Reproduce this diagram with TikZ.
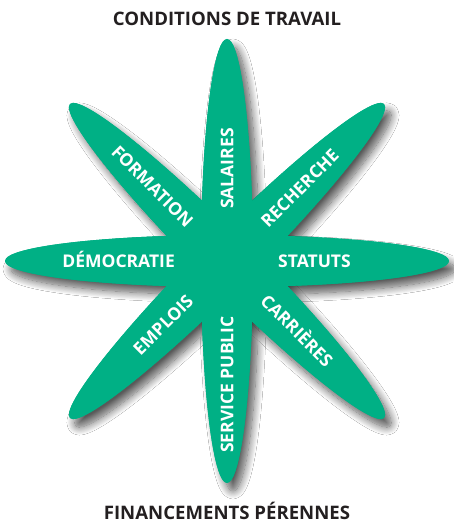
\documentclass[tikz,border=0pt]{standalone}
\usepackage{fontspec}
\setmainfont{Open Sans}
\usetikzlibrary{calc,shadows.blur}
\definecolor{petalgreen}{RGB}{0,176,133}
\definecolor{titleink}{RGB}{35,31,32}
\tikzset{
  petal/.style={fill=petalgreen},
  petalshadow/.style={fill=petalgreen, blur shadow={shadow xshift=6pt, shadow yshift=-8pt, shadow blur radius=8pt, shadow blur steps=14, shadow opacity=65}},
  lbl/.style={text=white, font=\bfseries\fontsize{17.5}{20}\selectfont, inner sep=0pt, text height=12.5pt, text depth=0pt},
  ttl/.style={text=titleink, font=\bfseries\fontsize{18.6}{20}\selectfont, inner sep=0pt}
}
\begin{document}
\begin{tikzpicture}[x=1pt,y=1pt]
\useasboundingbox (0,0) rectangle (453,524);
\fill[white] (0,0) rectangle (453,524);
\coordinate (C) at (227,263);
% shadows pass
\foreach \a in {0,45,90,135}{
  \path[petalshadow, rotate around={\a:(C)}] (C) ellipse [x radius=222, y radius=26];
}
% petals pass
\foreach \a in {0,45,90,135}{
  \path[petal, rotate around={\a:(C)}] (C) ellipse [x radius=222, y radius=26];
}
\node[ttl] (top) at (227,505) {CONDITIONS DE TRAVAIL};
\node[ttl] (bottom) at (227,13) {FINANCEMENTS PÉRENNES};
\node[lbl, rotate=90, anchor=west] (salaires) at ($(C)+(90:52)$) {SALAIRES};
\node[lbl, rotate=90, anchor=east] (service) at ($(C)+(270:55)$) {SERVICE PUBLIC};
\node[lbl, anchor=east] (democratie) at ($(C)+(180:52)$) {DÉMOCRATIE};
\node[lbl, anchor=west] (statuts) at ($(C)+(0:51)$) {STATUTS};
\node[lbl, rotate=-45, anchor=east] (formation) at ($(C)+(135:52)$) {FORMATION};
\node[lbl, rotate=45, anchor=west] (recherche) at ($(C)+(45:52)$) {RECHERCHE};
\node[lbl, rotate=45, anchor=east] (emplois) at ($(C)+(225:52)$) {EMPLOIS};
\node[lbl, rotate=-45, anchor=west] (carrieres) at ($(C)+(315:52)$) {CARRIÈRES};
\end{tikzpicture}
\end{document}
